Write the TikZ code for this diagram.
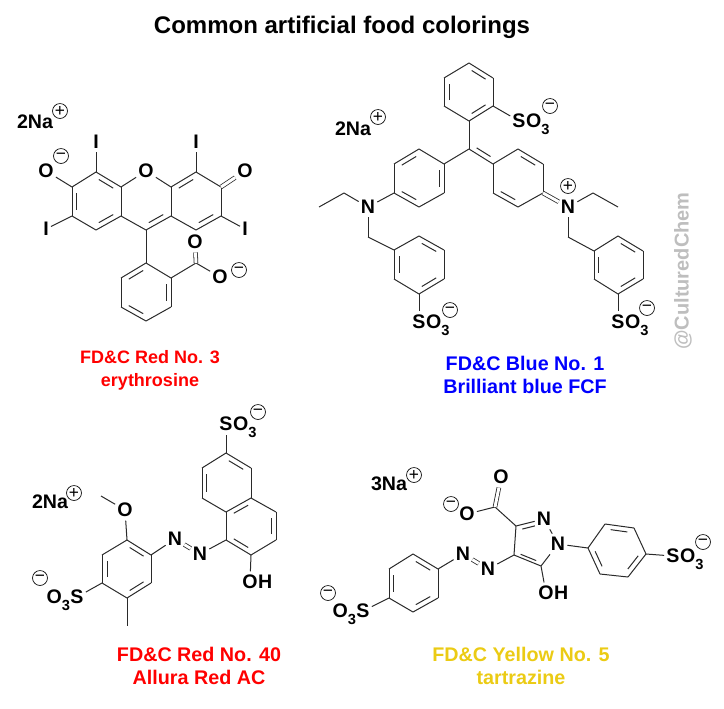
\documentclass[tikz,border=0pt]{standalone}
\usepackage{fontspec}
\setmainfont{Liberation Sans}
\usetikzlibrary{calc,positioning}
\definecolor{bondcol}{HTML}{2A2A2A}
\definecolor{yellowcol}{HTML}{EBCB14}
\definecolor{markcol}{HTML}{BEBEBE}
\newcommand{\subthree}{\raisebox{-.32em}{\fontsize{11pt}{11pt}\selectfont 3}}
\tikzset{
  bond/.style={draw=bondcol,line width=.75pt},
  dblbond/.style={draw=bondcol,line width=.6pt,double=white,double distance=2.2pt},
  atom/.style={font=\fontsize{14.7pt}{16pt}\selectfont\bfseries,inner xsep=1.5pt,inner ysep=2.5pt},
  tailr/.style={atom,anchor=base west,inner xsep=0pt,xshift=-1.5pt},
  taill/.style={atom,anchor=base east,inner xsep=0pt,xshift=1.5pt},
  chg/.style={circle,draw=black,line width=.5pt,inner sep=0pt,minimum size=11.2pt,font=\fontsize{13pt}{13pt}\selectfont},
  dyename/.style={font=\fontsize{14.8pt}{17.4pt}\selectfont\bfseries,align=center},
  dyesmall/.style={font=\fontsize{13.5pt}{17.2pt}\selectfont\bfseries,align=center},
}
\begin{document}
\begin{tikzpicture}[x=.75pt,y=-.75pt]
\useasboundingbox (0,0) rectangle (724,708);
\node[font=\fontsize{18pt}{22pt}\selectfont\bfseries] (title) at (342,27) {Common artificial food colorings};
\node[font=\fontsize{15pt}{18pt}\selectfont\bfseries,text=markcol,rotate=90] (mark) at (683,271) {@CulturedChem};

% erythrosine
\foreach \n/\x/\y in {e1/96/172,e2/121/187,e3/121/216,e4/96/230,e5/72/216,e6/72/187,e7/171/187,e8/171/216,e9/146/230,
  e10/196/172,e11/221/187,e12/221/216,e13/196/230,e14/146/263,e15/171/278,e16/171/307,e17/146/321,e18/121/307,e19/121/278,
  e20/196/263,eL/96/201,eM/146/201,eR/196/201,eB/146/292}
  \coordinate (\n) at (\x,\y);
\node[atom] (eO) at (146,171) {O};
\node[atom] (eI1) at (96,142) {I};
\node[atom] (eI2) at (196,142) {I};
\node[atom] (eI3) at (46,229) {I};
\node[atom] (eI4) at (245,229) {I};
\node[atom] (eO1) at (46,171) {O};
\node[atom] (eO2) at (245,171) {O};
\node[atom] (eO3) at (195,242) {O};
\node[atom] (eO4) at (220,277) {O};
\node[chg] (eC1) at (61,156) {\textminus};
\node[chg] (eC2) at (239,270) {\textminus};
\node[atom] (eNa) at (35,122) {2Na};
\node[chg] (eC3) at (60,111) {+};
\foreach \a/\b in {e1/e2,e2/e3,e3/e4,e4/e5,e5/e6,e6/e1,e2/eO,eO/e7,e7/e8,e8/e9,e9/e3,e7/e10,e10/e11,e11/e12,e12/e13,e13/e8,
  e9/e14,e14/e15,e15/e16,e16/e17,e17/e18,e18/e19,e19/e14,e15/e20,e1/eI1,e10/eI2,e5/eI3,e12/eI4,e6/eO1,e20/eO4}
  \draw[bond] (\a) -- (\b);
\foreach \a/\b in {e11/eO2,e20/eO3}
  \draw[dblbond] (\a) -- (\b);
\foreach \a/\b/\c in {e1/e2/eL,e3/e4/eL,e5/e6/eL,e8/e9/eM,e7/e10/eR,e12/e13/eR,e14/e19/eB,e15/e16/eB,e17/e18/eB}
  \draw[bond] ($($(\a)!.14!(\b)$)!.2!(\c)$) -- ($($(\b)!.14!(\a)$)!.2!(\c)$);
\node[dyesmall,text=red] (eName) at (150,370) {FD\&C Red No. 3\\erythrosine};

% brilliant blue
\foreach \n/\x/\y in {b1/469/63,b2/493/78,b3/493/106,b4/469/121,b5/444/106,b6/444/78,b7/469/149,
  b8/444/164,b9/444/193,b10/419/207,b11/394/193,b12/394/164,b13/419/149,b14/344/193,b15/319/207,b16/368/237,
  b17/394/250,b18/419/236,b19/444/250,b20/444/279,b21/419/294,b22/394/279,
  b23/493/164,b24/518/149,b25/543/164,b26/543/193,b27/518/207,b28/493/193,b29/593/193,b30/618/207,b31/568/237,
  b32/594/251,b33/618/236,b34/643/251,b35/643/279,b36/618/294,b37/594/279,
  bT/469/92,bL/419/178,bS/419/265,bR/518/178,bQ/618/265,bU/494/135}
  \coordinate (\n) at (\x,\y);
\node[atom] (bN1) at (368,207) {N};
\node[atom] (bN2) at (568,207) {N};
\node[atom] (bS1) at (519,121) {S};
\node[tailr] (bS1o) at (bS1.base east) {O\subthree};
\node[atom] (bS2) at (419,322) {S};
\node[tailr] (bS2o) at (bS2.base east) {O\subthree};
\node[atom] (bS3) at (618,322) {S};
\node[tailr] (bS3o) at (bS3.base east) {O\subthree};
\node[chg] (bC1) at (550,106) {\textminus};
\node[chg] (bC2) at (450,310) {\textminus};
\node[chg] (bC3) at (647,308) {\textminus};
\node[chg] (bC4) at (568,186) {+};
\node[atom] (bNa) at (353,129) {2Na};
\node[chg] (bC5) at (378,117) {+};
\foreach \a/\b in {b1/b2,b2/b3,b3/b4,b4/b5,b5/b6,b6/b1,b4/b7,b7/b8,b8/b9,b9/b10,b10/b11,b11/b12,b12/b13,b13/b8,b11/bN1,
  bN1/b14,b14/b15,bN1/b16,b16/b17,b17/b18,b18/b19,b19/b20,b20/b21,b21/b22,b22/b17,b21/bS2,b7/b23,b23/b24,b24/b25,b25/b26,b26/b27,b27/b28,b28/b23,
  bN2/b29,b29/b30,bN2/b31,b31/b32,b32/b33,b33/b34,b34/b35,b35/b36,b36/b37,b37/b32,b36/bS3,b3/bS1}
  \draw[bond] (\a) -- (\b);
\draw[dblbond] (b26) -- (bN2);
\foreach \a/\b/\c in {b1/b2/bT,b3/b4/bT,b5/b6/bT,b8/b9/bL,b10/b11/bL,b12/b13/bL,b17/b22/bS,b18/b19/bS,b20/b21/bS,
  b24/b25/bR,b27/b28/bR,b32/b37/bQ,b33/b34/bQ,b35/b36/bQ,b7/b23/bU}
  \draw[bond] ($($(\a)!.14!(\b)$)!.2!(\c)$) -- ($($(\b)!.14!(\a)$)!.2!(\c)$);
\node[dyename,text=blue] (bName) at (525,375) {FD\&C Blue No. 1\\Brilliant blue FCF};

% allura red
\foreach \n/\x/\y in {a1/226/453,a2/251/468,a3/251/498,a4/226/512,a5/202/498,a6/202/468,a7/226/540,a8/251/555,a9/276/540,a10/276/512,
  a11/151/555,a12/127/540,a13/102/555,a14/102/583,a15/127/598,a16/151/583,a17/127/626,a18/101/496,aT/226/483,aB/251/526,aL/127/569}
  \coordinate (\n) at (\x,\y);
\node[atom] (aN1) at (175,539) {N};
\node[atom] (aN2) at (200,554) {N};
\node[atom] (aO1) at (125,510) {O};
\node[atom] (aS1) at (226,424) {S};
\node[tailr] (aS1o) at (aS1.base east) {O\subthree};
\node[atom] (aS2) at (77,597) {S};
\node[taill] (aS2o) at (aS2.base west) {O\subthree};
\node[atom] (aO2) at (250,582) {O};
\node[tailr] (aO2h) at (aO2.base east) {H};
\node[chg] (aC1) at (258,412) {\textminus};
\node[chg] (aC2) at (40,578) {\textminus};
\node[atom] (aNa) at (50,502) {2Na};
\node[chg] (aC3) at (74,493) {+};
\foreach \a/\b in {a1/a2,a2/a3,a3/a4,a4/a5,a5/a6,a6/a1,a4/a7,a7/a8,a8/a9,a9/a10,a10/a3,a1/aS1,a8/aO2,a7/aN2,aN1/a11,
  a11/a12,a12/a13,a13/a14,a14/a15,a15/a16,a16/a11,a12/aO1,aO1/a18,a15/a17,a14/aS2}
  \draw[bond] (\a) -- (\b);
\draw[dblbond] (aN1) -- (aN2);
\foreach \a/\b/\c in {a1/a2/aT,a5/a6/aT,a3/a4/aB,a7/a8/aB,a9/a10/aB,a11/a12/aL,a13/a14/aL,a15/a16/aL}
  \draw[bond] ($($(\a)!.14!(\b)$)!.2!(\c)$) -- ($($(\b)!.14!(\a)$)!.2!(\c)$);
\node[dyename,text=red] (aName) at (199,666) {FD\&C Red No. 40\\Allura Red AC};

% tartrazine
\foreach \n/\x/\y in {t1/438/569,t2/413/554,t3/389/569,t4/389/598,t5/413/612,t6/438/598,t7/514/555,t8/516/526,t9/541/566,t10/495/507,
  t11/588/548,t12/605/524,t13/634/528,t14/646/554,t15/628/577,t16/600/574,tL/413/583,tP/617/550,tQ/532/545}
  \coordinate (\n) at (\x,\y);
\node[atom] (tN1) at (463,554) {N};
\node[atom] (tN2) at (488,569) {N};
\node[atom] (tN3) at (544,519) {N};
\node[atom] (tN4) at (558,544) {N};
\node[atom] (tO1) at (501,477) {O};
\node[atom] (tO2) at (467,514) {O};
\node[atom] (tO3) at (546,593) {O};
\node[tailr] (tO3h) at (tO3.base east) {H};
\node[atom] (tS1) at (363,611) {S};
\node[taill] (tS1o) at (tS1.base west) {O\subthree};
\node[atom] (tS2) at (673,556) {S};
\node[tailr] (tS2o) at (tS2.base east) {O\subthree};
\node[chg] (tC1) at (451,504) {\textminus};
\node[chg] (tC2) at (328,593) {\textminus};
\node[chg] (tC3) at (703,542) {\textminus};
\node[atom] (tNa) at (389,484) {3Na};
\node[chg] (tC4) at (414,475) {+};
\foreach \a/\b in {t1/t2,t2/t3,t3/t4,t4/t5,t5/t6,t6/t1,t4/tS1,t1/tN1,tN2/t7,t7/t8,t7/t9,t8/tN3,tN3/tN4,tN4/t9,t8/t10,t10/tO2,t9/tO3,
  tN4/t11,t11/t12,t12/t13,t13/t14,t14/t15,t15/t16,t16/t11,t14/tS2}
  \draw[bond] (\a) -- (\b);
\foreach \a/\b in {tN1/tN2,t10/tO1}
  \draw[dblbond] (\a) -- (\b);
\foreach \a/\b/\c in {t1/t2/tL,t3/t4/tL,t5/t6/tL,t7/t9/tQ,t11/t16/tP,t12/t13/tP,t14/t15/tP}
  \draw[bond] ($($(\a)!.14!(\b)$)!.2!(\c)$) -- ($($(\b)!.14!(\a)$)!.2!(\c)$);
\draw[bond] ($($(t8)!.14!(tN3)$)!.2!(tQ)$) -- ($($(tN3)!.3!(t8)$)!.2!(tQ)$);
\node[dyename,text=yellowcol] (tName) at (521,666) {FD\&C Yellow No. 5\\tartrazine};
\end{tikzpicture}
\end{document}
